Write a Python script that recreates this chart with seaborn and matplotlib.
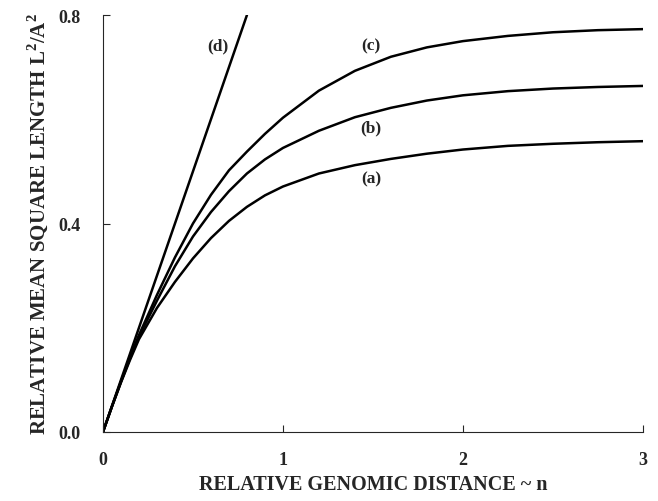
import numpy as np
import pandas as pd
import matplotlib
matplotlib.use('Agg')
import matplotlib.pyplot as plt
import seaborn as sns

# values
n = [0, 0.05, 0.1, 0.15, 0.2, 0.3, 0.4, 0.5, 0.6, 0.7, 0.8, 0.9, 1.0,
     1.2, 1.4, 1.6, 1.8, 2.0, 2.25, 2.5, 2.75, 3.0]
curve_a = [0, 0.049, 0.095, 0.138, 0.178, 0.238, 0.288, 0.333, 0.372, 0.405, 0.432, 0.454, 0.471,
           0.496, 0.512, 0.524, 0.534, 0.542, 0.549, 0.553, 0.556, 0.558]
curve_b = [0, 0.049, 0.096, 0.141, 0.183, 0.252, 0.318, 0.375, 0.422, 0.462, 0.496, 0.523, 0.545,
           0.578, 0.604, 0.622, 0.636, 0.646, 0.654, 0.659, 0.662, 0.664]
curve_c = [0, 0.049, 0.097, 0.143, 0.186, 0.263, 0.335, 0.400, 0.455, 0.502, 0.538, 0.572, 0.603,
           0.655, 0.693, 0.720, 0.738, 0.750, 0.760, 0.767, 0.771, 0.773]
n_d = [0, 0.8]
curve_d = [0, 0.8]

labels = ['(a)', '(b)', '(c)', '(d)']
label_x = [1.49, 1.49, 1.49, 0.64]
label_y = [0.486, 0.585, 0.741, 0.741]

df = pd.concat([
    pd.DataFrame({'n': n, 'L': curve_a, 'curve': 'a'}),
    pd.DataFrame({'n': n, 'L': curve_b, 'curve': 'b'}),
    pd.DataFrame({'n': n, 'L': curve_c, 'curve': 'c'}),
    pd.DataFrame({'n': n_d, 'L': curve_d, 'curve': 'd'}),
])

sns.set_style('ticks')
plt.rcParams['font.family'] = ['Liberation Serif', 'DejaVu Serif']
plt.rcParams['font.weight'] = 'bold'
plt.rcParams['mathtext.fontset'] = 'custom'
plt.rcParams['mathtext.rm'] = 'Liberation Serif:bold'
plt.rcParams['mathtext.bf'] = 'Liberation Serif:bold'

fig = plt.figure(figsize=(6.58, 5.02), dpi=100)
ax = fig.add_axes([0.1565, 0.1375, 0.8205, 0.8305])

sns.lineplot(data=df, x='n', y='L', units='curve', estimator=None,
             color='black', linewidth=1.8, sort=False, ax=ax)

for lab, lx, ly in zip(labels, label_x, label_y):
    ax.text(lx, ly, lab, ha='center', va='center', fontsize=12.5, fontweight='bold')

ax.set_xlim(0, 3)
ax.set_ylim(0, 0.8)
ax.set_xticks([0, 1, 2, 3])
ax.set_yticks([0.0, 0.4, 0.8])
ax.set_yticklabels(['0.0', '0.4', '0.8'])
ax.tick_params(direction='in', length=5, width=0.8, labelsize=13, pad=14)
ax.tick_params(axis='y', pad=16)
for lbl in ax.get_xticklabels() + ax.get_yticklabels():
    lbl.set_fontweight('bold')
sns.despine(ax=ax)
for s in ['left', 'bottom']:
    ax.spines[s].set_linewidth(0.8)

ax.set_xlabel('RELATIVE GENOMIC DISTANCE ~ n', fontsize=14.5, fontweight='bold', labelpad=4)
ax.set_ylabel(r'RELATIVE MEAN SQUARE LENGTH L$^{2}$/A$^{2}$', fontsize=15,
              fontweight='bold', labelpad=6)

fig.savefig('out.png', dpi=100)
